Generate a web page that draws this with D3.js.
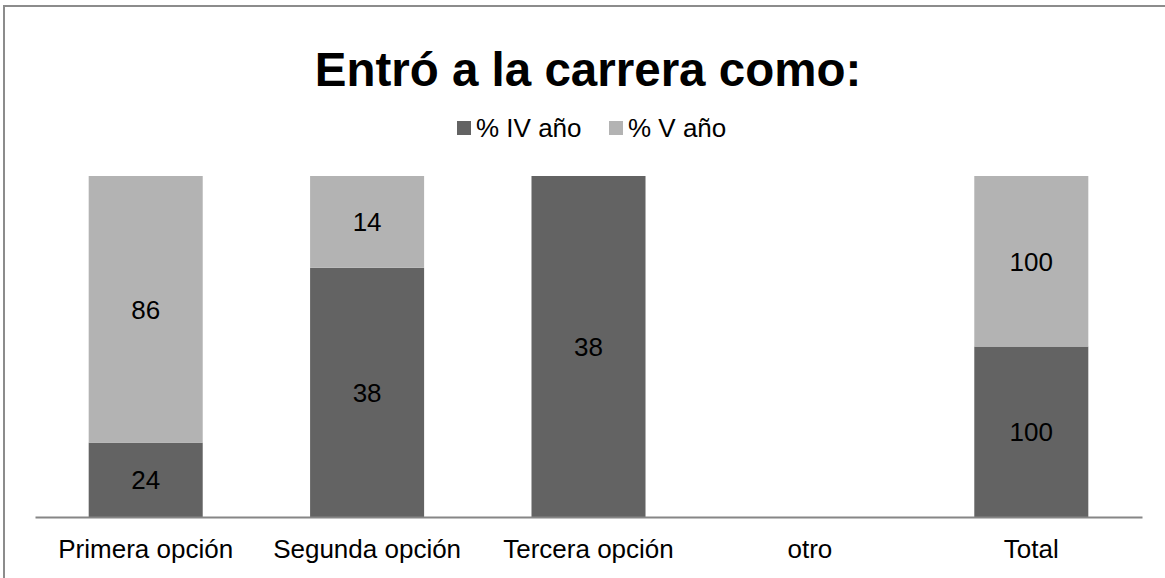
<!DOCTYPE html>
<html>
<head>
<meta charset="utf-8">
<script src="https://cdn.jsdelivr.net/npm/d3@7"></script>
<style>
  body { margin: 0; background: #fff; }
  svg text { font-family: "Liberation Sans", Arial, sans-serif; }
</style>
</head>
<body>
<svg class="chart"></svg>
<script>
// datos del grafico
let categories = ["Primera opción", "Segunda opción", "Tercera opción", "otro", "Total"];
let seriesNames = ["% IV año", "% V año"];
let ivYear = [24, 38, 38, 0, 100];
let vYear = [86, 14, 0, 0, 100];
let colors = ["#636363", "#b3b3b3"];

let width = 1165, height = 578;
let svg = d3.select(".chart").attr("width", width).attr("height", height);

// marco
svg.append("rect")
    .attr("x", 4).attr("y", 6)
    .attr("width", 1200).attr("height", 700)
    .attr("fill", "none").attr("stroke", "#8c8c8c").attr("stroke-width", 2);

let rows = categories.map((c, i) => ({cat: c, iv: ivYear[i], v: vYear[i]}));
let stack = d3.stack().keys(["iv", "v"])
    .offset(d3.stackOffsetExpand)(rows);

let x = d3.scaleBand().domain(categories).range([35, 1142]).paddingInner(0.485).paddingOuter(0.2425);
let y = d3.scaleLinear().domain([0, 1]).range([517, 176]);

let layers = svg.selectAll(".layer")
    .data(stack).enter()
    .append("g")
    .attr("fill", (d, i) => colors[i]);

layers.selectAll("rect")
    .data(d => d.map(s => ({s: s, key: d.key})))
    .enter()
    .filter(d => !isNaN(d.s[1]) && d.s[1] - d.s[0] > 0)
    .append("rect")
    .attr("x", d => x(d.s.data.cat))
    .attr("y", d => y(d.s[1]))
    .attr("width", x.bandwidth())
    .attr("height", d => y(d.s[0]) - y(d.s[1]));

// etiquetas de datos
layers.selectAll("text")
    .data(d => d.map(s => ({s: s, key: d.key})))
    .enter()
    .filter(d => !isNaN(d.s[1]) && d.s[1] - d.s[0] > 0)
    .append("text")
    .attr("x", d => x(d.s.data.cat) + x.bandwidth() / 2)
    .attr("y", d => (y(d.s[0]) + y(d.s[1])) / 2)
    .attr("dy", "0.36em")
    .attr("text-anchor", "middle")
    .attr("font-size", "26px")
    .attr("fill", "#000")
    .text(d => d.s.data[d.key]);

// eje x
let xAxis = svg.append("g").attr("transform", "translate(0,517)")
    .call(d3.axisBottom(x).tickSize(0).tickPadding(23));
xAxis.select(".domain").attr("stroke", "#868686").attr("stroke-width", 2);
xAxis.selectAll("text")
    .attr("font-size", "26px")
    .attr("fill", "#000")
    .style("font-family", "'Liberation Sans', Arial, sans-serif");

// titulo
svg.append("text")
    .text("Entró a la carrera como:")
    .attr("x", 588).attr("y", 86)
    .attr("text-anchor", "middle")
    .attr("font-size", "47.5px")
    .attr("font-weight", "bold");

// leyenda
let legendX = [457, 609];
seriesNames.forEach((name, i) => {
    let g = svg.append("g").attr("transform", `translate(${legendX[i]},0)`);
    g.append("rect").attr("x", 0).attr("y", 121).attr("width", 14).attr("height", 14).attr("fill", colors[i]);
    g.append("text").text(name).attr("x", 19).attr("y", 137).attr("font-size", "26px");
});
</script>
</body>
</html>
